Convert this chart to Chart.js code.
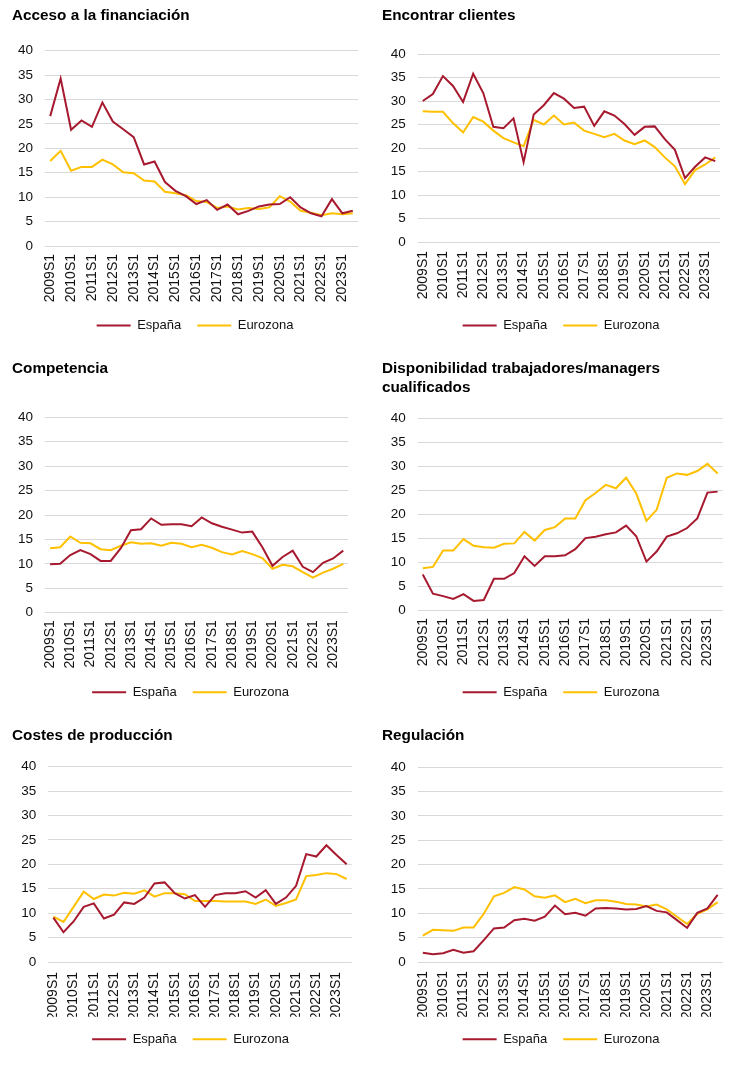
<!DOCTYPE html>
<html>
<head>
<meta charset="utf-8">
<script src="https://cdn.jsdelivr.net/npm/chart.js@4.4.0/dist/chart.umd.min.js"></script>
<style>
html,body{margin:0;padding:0;background:#fff;overflow:hidden;width:733px;height:1067px;}
#wrap{position:relative;width:733px;height:1067px;overflow:hidden;background:#fff;}
#wrap canvas{position:absolute;}
</style>
</head>
<body>
<div id="wrap"></div>
<script>
// ---------- DATA ----------
const categories = [
  "2009S1","2009S2","2010S1","2010S2","2011S1","2011S2","2012S1","2012S2",
  "2013S1","2013S2","2014S1","2014S2","2015S1","2015S2","2016S1","2016S2",
  "2017S1","2017S2","2018S1","2018S2","2019S1","2019S2","2020S1","2020S2",
  "2021S1","2021S2","2022S1","2022S2","2023S1","2023S2"
];
const seriesNames = ["España", "Eurozona"];
const yTicks = { min: 0, max: 40, step: 5 };

const titleAcceso = "Acceso a la financiación";
const titleClientes = "Encontrar clientes";
const titleCompetencia = "Competencia";
const titleTrabajadores = ["Disponibilidad trabajadores/managers", "cualificados"];
const titleCostes = "Costes de producción";
const titleRegulacion = "Regulación";

const accesoEspana   = [26.6,34.3,23.8,25.7,24.4,29.4,25.5,23.9,22.3,16.7,17.3,13.1,11.3,10.2,8.6,9.4,7.4,8.5,6.5,7.2,8.1,8.5,8.6,10.0,7.9,6.7,6.1,9.6,6.7,7.2];
const accesoEurozona = [17.4,19.5,15.4,16.2,16.2,17.7,16.7,15.1,14.9,13.4,13.2,11.1,10.8,10.4,9.2,9.0,7.8,8.1,7.5,7.8,7.6,7.9,10.2,9.1,7.2,6.8,6.3,6.7,6.5,6.7];

const clientesEspana   = [30.0,31.5,35.3,33.2,29.8,35.8,31.7,24.5,24.2,26.3,17.0,27.1,29.1,31.7,30.5,28.5,28.8,24.7,27.8,26.9,25.1,22.8,24.5,24.6,21.9,19.6,13.6,16.0,18.0,17.2];
const clientesEurozona = [27.8,27.7,27.7,25.3,23.3,26.6,25.6,23.7,22.1,21.2,20.4,26.0,25.0,26.9,25.0,25.4,23.7,23.0,22.3,23.0,21.6,20.8,21.6,20.2,18.0,16.1,12.3,15.3,16.5,18.0];

const competenciaEspana   = [9.9,10.0,11.8,12.8,12.0,10.6,10.6,13.2,16.9,17.1,19.3,18.0,18.1,18.1,17.7,19.5,18.3,17.6,17.0,16.4,16.6,13.4,9.6,11.4,12.7,9.4,8.3,10.2,11.1,12.7];
const competenciaEurozona = [13.2,13.4,15.6,14.3,14.2,13.0,12.8,13.7,14.4,14.1,14.2,13.7,14.3,14.1,13.4,13.9,13.3,12.4,11.9,12.6,12.0,11.2,9.0,9.8,9.5,8.3,7.2,8.2,9.0,10.0];

const trabajadoresEspana   = [7.4,3.4,2.9,2.3,3.3,1.9,2.1,6.5,6.5,7.7,11.2,9.2,11.2,11.2,11.4,12.7,15.0,15.3,15.8,16.2,17.6,15.4,10.1,12.2,15.3,16.0,17.1,19.1,24.5,24.7];
const trabajadoresEurozona = [8.7,9.0,12.4,12.4,14.8,13.4,13.1,13.0,13.8,13.9,16.3,14.5,16.7,17.3,19.1,19.1,22.9,24.4,26.1,25.4,27.6,24.3,18.6,20.9,27.6,28.5,28.2,29.0,30.5,28.5];

const costesEspana   = [9.1,6.1,8.3,11.3,12.0,8.9,9.7,12.2,11.9,13.2,16.1,16.3,14.1,13.0,13.7,11.3,13.7,14.1,14.1,14.5,13.2,14.7,11.9,13.2,15.6,22.1,21.6,23.9,21.9,20.0];
const costesEurozona = [9.3,8.2,11.3,14.4,12.9,13.8,13.6,14.2,14.0,14.7,13.4,14.1,14.1,13.9,12.5,12.5,12.5,12.4,12.4,12.4,11.9,12.8,11.5,12.1,12.8,17.6,17.8,18.2,18.0,17.0];

const regulacionEspana   = [1.9,1.6,1.8,2.5,1.9,2.2,4.5,6.9,7.1,8.6,8.9,8.5,9.3,11.6,9.8,10.1,9.5,11.0,11.1,11.0,10.8,10.9,11.5,10.5,10.2,8.6,7.0,10.1,11.0,13.8];
const regulacionEurozona = [5.4,6.6,6.5,6.4,7.1,7.1,9.9,13.5,14.2,15.4,14.9,13.5,13.2,13.7,12.3,13.0,12.1,12.7,12.7,12.4,11.9,11.8,11.4,11.8,10.8,9.3,7.8,9.9,10.8,12.3];

// ---------- STYLE ----------
const colorEspana = "#A6192E";
const colorEurozona = "#FFC000";
const gridColor = "#D9D9D9";
const textColor = "#111111";
const fontFamily = "'Liberation Sans', Arial, Helvetica, sans-serif";

// ---------- LAYOUT (per panel) ----------
const panels = [
  { title: titleAcceso, a: accesoEspana, b: accesoEurozona,
    left: 0, top: 0, w: 380, h: 355, padL: 12, padR: 2, padB: 13, tTop: 6.3, tBot: 25.4, yw: 33, xh: 57, xPadR: 22, xlp: 8 },
  { title: titleClientes, a: clientesEspana, b: clientesEurozona,
    left: 366, top: 0, w: 380, h: 355, padL: 16, padR: 6, padB: 13, tTop: 6.3, tBot: 28.7, yw: 35.7, xh: 61, xPadR: 25.7, xlp: 9 },
  { title: titleCompetencia, a: competenciaEspana, b: competenciaEurozona,
    left: 0, top: 355, w: 380, h: 360, padL: 12, padR: 11, padB: 6.2, tTop: 3.8, tBot: 39.5, yw: 33, xh: 57.1, xPadR: 31.7, xlp: 7.5 },
  { title: titleTrabajadores, a: trabajadoresEspana, b: trabajadoresEurozona,
    left: 366, top: 355, w: 380, h: 360, padL: 16, padR: 6, padB: 6.2, tTop: 4.6, tBot: 20.7, yw: 35.7, xh: 59.8, xPadR: 23.3, xlp: 8 },
  { title: titleCostes, a: costesEspana, b: costesEurozona,
    left: 0, top: 715, w: 380, h: 352, padL: 12, padR: 11, padB: 11.2, tTop: 11, tBot: 21.7, yw: 36.3, xh: 54.8, xPadR: 28.3, xlp: 10 },
  { title: titleRegulacion, a: regulacionEspana, b: regulacionEurozona,
    left: 366, top: 715, w: 380, h: 352, padL: 16, padR: 6, padB: 11.2, tTop: 11, tBot: 22.3, yw: 35.7, xh: 54.8, xPadR: 23.3, xlp: 9 }
];

Chart.defaults.font.family = fontFamily;
Chart.defaults.color = textColor;

const wrap = document.getElementById("wrap");

panels.forEach((p) => {
  const cv = document.createElement("canvas");
  cv.width = p.w; cv.height = p.h;
  cv.style.left = p.left + "px";
  cv.style.top = p.top + "px";
  cv.style.width = p.w + "px";
  cv.style.height = p.h + "px";
  wrap.appendChild(cv);

  new Chart(cv.getContext("2d"), {
    type: "line",
    data: {
      labels: categories,
      datasets: [
        { label: seriesNames[0], data: p.a, borderColor: colorEspana, backgroundColor: colorEspana,
          borderWidth: 2, pointRadius: 0, pointHoverRadius: 0, tension: 0, fill: false },
        { label: seriesNames[1], data: p.b, borderColor: colorEurozona, backgroundColor: colorEurozona,
          borderWidth: 2, pointRadius: 0, pointHoverRadius: 0, tension: 0, fill: false }
      ]
    },
    options: {
      responsive: false,
      animation: false,
      devicePixelRatio: 1,
      events: [],
      layout: { padding: { left: p.padL, right: p.padR, top: 0, bottom: p.padB } },
      plugins: {
        tooltip: { enabled: false },
        title: {
          display: true, text: p.title, align: "start", color: "#000",
          font: { size: 15.3, weight: "bold", lineHeight: 19 / 15.3 },
          padding: { top: p.tTop, bottom: p.tBot }
        },
        legend: {
          display: true, position: "bottom", align: "center",
          labels: {
            usePointStyle: true, pointStyle: "line", pointStyleWidth: 34,
            color: textColor, font: { size: 13 }, padding: 16
          }
        }
      },
      scales: {
        x: {
          offset: true,
          grid: { display: false, drawTicks: false },
          border: { display: false },
          ticks: {
            autoSkip: false, minRotation: 90, maxRotation: 90, padding: p.xlp,
            color: textColor, font: { size: 14 },
            callback: function (v, i) { return i % 2 === 0 ? categories[i] : ""; }
          },
          afterFit: function (s) { s.height = p.xh; s.paddingRight = p.xPadR; }
        },
        y: {
          min: yTicks.min, max: yTicks.max,
          grid: { color: gridColor, lineWidth: 1, drawTicks: false },
          border: { display: false },
          ticks: { stepSize: yTicks.step, padding: 12, color: textColor, font: { size: 13.5 } },
          afterFit: function (s) { s.width = p.yw; }
        }
      }
    }
  });
});
</script>
</body>
</html>
